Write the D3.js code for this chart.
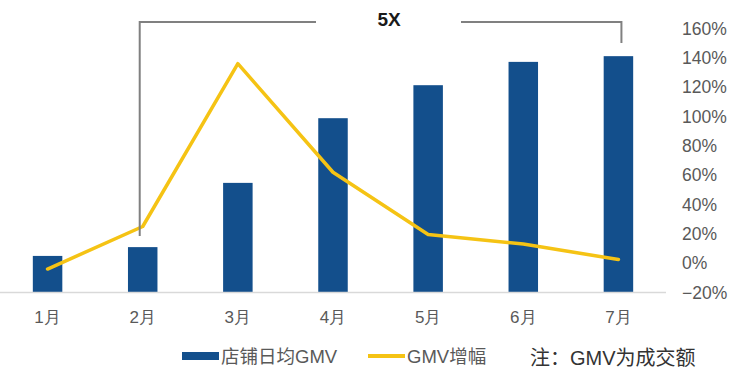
<!DOCTYPE html>
<html>
<head>
<meta charset="utf-8">
<script src="https://cdn.jsdelivr.net/npm/d3@7/dist/d3.min.js"></script>
<style>
  html, body { margin: 0; padding: 0; background: #fff; }
  svg { display: block; font-family: "Liberation Sans", "Noto Sans CJK SC", sans-serif; }
</style>
</head>
<body>
<svg class="chart"></svg>
<script>
const months = ["1月", "2月", "3月", "4月", "5月", "6月", "7月"]
// 店铺日均GMV (relative, no axis shown)
const gmvDaily = [0.82, 1.02, 2.48, 3.95, 4.70, 5.23, 5.36]
// GMV增幅
const gmvGrowth = [-0.04, 0.25, 1.36, 0.62, 0.195, 0.13, 0.025]
const pctTicks = [-0.2, 0, 0.2, 0.4, 0.6, 0.8, 1.0, 1.2, 1.4, 1.6]

const W = 733, H = 376
const barColor = "#134f8c"
const lineColor = "#f5c314"
const grey = "#595959"

const svg = d3.select(".chart")
.attr("width", W)
.attr("height", H)

const x = d3.scaleBand()
.domain(months)
.range([0, 666])
.paddingInner(0.69)
.paddingOuter(0.345)

const yBar = d3.scaleLinear()
.domain([0, 6])
.range([292, 28])

const yPct = d3.scaleLinear()
.domain([-0.2, 1.6])
.range([292.5, 28.5])

//bars
svg.append("g")
.selectAll("rect")
.data(gmvDaily)
.enter()
.append("rect")
.attr("x", (d,i) => x(months[i]))
.attr("y", d => yBar(d))
.attr("width", x.bandwidth())
.attr("height", d => yBar(0) - yBar(d))
.attr("fill", barColor)

//baseline
svg.append("line")
.attr("x1", 0)
.attr("x2", 666)
.attr("y1", 292.5)
.attr("y2", 292.5)
.style("stroke", "#d9d9d9")
.style("stroke-width", "1.5px")

//month labels
const xAxis = svg.append("g")
.attr("transform", "translate(0,292)")
.call(d3.axisBottom(x).tickSize(0).tickPadding(19))
xAxis.select(".domain").remove()
xAxis.selectAll("text")
.attr("fill", grey)
.style("font-size", "17px")

//right axis labels
const yAxis = svg.append("g")
.attr("transform", "translate(682,0)")
.call(d3.axisRight(yPct).tickValues(pctTicks).tickSize(0).tickPadding(0).tickFormat(d3.format(".0%")))
yAxis.select(".domain").remove()
yAxis.selectAll("text")
.attr("fill", grey)
.style("font-size", "17.5px")

//growth line
const lineFunc = d3.line()
.x((d,i) => x(months[i]) + x.bandwidth()/2)
.y(d => yPct(d))
.curve(d3.curveLinear)

svg.append("path")
.attr("d", lineFunc(gmvGrowth))
.attr("fill", "none")
.style("stroke", lineColor)
.style("stroke-width", "3.5px")
.style("stroke-linejoin", "round")
.style("stroke-linecap", "round")

//5X bracket
const bx1 = x("2月") + x.bandwidth()/2 - 3
const bx2 = x("7月") + x.bandwidth()/2 + 3
const by = 22
const bracket = svg.append("g")
.style("stroke", "#808080")
.style("stroke-width", "2px")
.attr("fill", "none")

bracket.append("path")
.attr("d", `M${bx1},236 V${by} H316`)
bracket.append("path")
.attr("d", `M461,${by} H${bx2} V43`)

svg.append("text")
.attr("x", 389)
.attr("y", 26)
.attr("text-anchor", "middle")
.style("font-size", "19px")
.style("font-weight", "bold")
.attr("fill", "#1a1a1a")
.text("5X")

//legend
const legend = svg.append("g")
legend.append("rect")
.attr("x", 182)
.attr("y", 352)
.attr("width", 37)
.attr("height", 8)
.attr("fill", barColor)
legend.append("text")
.attr("x", 221)
.attr("y", 363)
.attr("fill", grey)
.style("font-size", "18.5px")
.text("店铺日均GMV")

legend.append("line")
.attr("x1", 368)
.attr("x2", 405)
.attr("y1", 356)
.attr("y2", 356)
.style("stroke", lineColor)
.style("stroke-width", "4px")
legend.append("text")
.attr("x", 407)
.attr("y", 363)
.attr("fill", grey)
.style("font-size", "18.5px")
.text("GMV增幅")

svg.append("text")
.attr("x", 530)
.attr("y", 365)
.attr("fill", "#333")
.style("font-size", "20px")
.text("注：GMV为成交额")
</script>
</body>
</html>
